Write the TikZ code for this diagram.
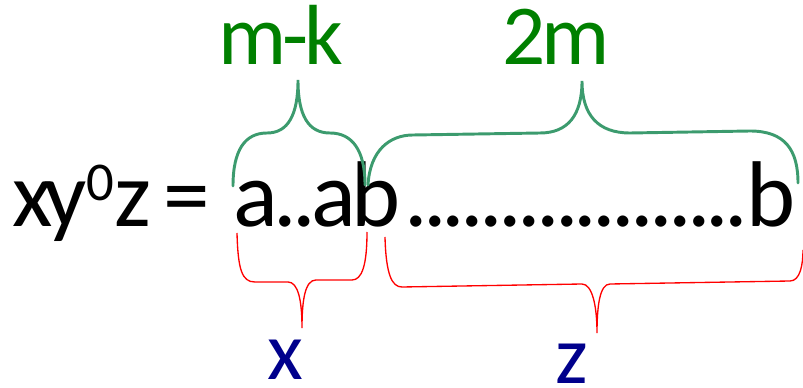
\documentclass[tikz,border=0pt]{standalone}
\usepackage{fontspec}
\setmainfont[LetterSpace=-5]{Carlito}
\definecolor{lblgreen}{RGB}{0,128,0}
\definecolor{bracegreen}{RGB}{60,155,110}
\definecolor{lblblue}{RGB}{0,0,140}
\begin{document}
\begin{tikzpicture}[x=0.75pt, y=-0.75pt,
    every node/.style={inner sep=0pt},
    word/.style={font=\fontsize{70}{80}\selectfont, anchor=base west},
    toplbl/.style={font=\fontsize{64}{72}\selectfont, text=lblgreen, anchor=base},
    botlbl/.style={font=\fontsize{62}{72}\selectfont, text=lblblue, anchor=base, text depth=0pt},
    gbrace/.style={draw=bracegreen, line width=2.2pt, line cap=round},
    rbrace/.style={draw=red, line width=1pt}]
\useasboundingbox (0,0) rectangle (803,388);
\node[word] (lhs) at (12,227) {\addfontfeature{LetterSpace=-9}xy\raisebox{20pt}{\fontsize{41}{48}\selectfont 0}z =};
\node[word] (pre) at (233,227) {a..ab};
\node[word] (dots) at (404,227) {..................};
\node[word, anchor=base east] (last) at (796,227) {b};
\node[toplbl] (lblmk) at (281,65) {m-k};
\node[toplbl] (lbl2m) at (556,65) {2m};
\node[botlbl] (lblx) at (285,379) {x};
\node[botlbl] (lblz) at (572,383) {z};
% braces over the string
\draw[gbrace] (233,186) .. controls (233,150) and (245,133) .. (267,133)
  .. controls (288,133) and (298,115) .. (298,80)
  .. controls (298,115) and (308,133) .. (330,133)
  .. controls (352,133) and (365,150) .. (365,185);
\draw[gbrace] (368,185) .. controls (370,150) and (390,135) .. (413,135)
  -- (540,133) .. controls (568,133) and (582,115) .. (582,81)
  .. controls (582,115) and (598,133) .. (630,133)
  -- (750,131) .. controls (785,131) and (798,150) .. (798,183);
% braces under the string
\draw[rbrace] (237,233) .. controls (238,270) and (242,282) .. (255,282)
  -- (288,282) .. controls (298,282) and (302,300) .. (302,328)
  .. controls (302,300) and (305,280) .. (316,280)
  -- (352,280) .. controls (362,280) and (367,265) .. (367,232);
\draw[rbrace] (385,237) .. controls (386,275) and (392,287) .. (402,287)
  -- (582,284) .. controls (592,284) and (597,305) .. (597,333)
  .. controls (597,305) and (600,284) .. (610,284)
  -- (790,281) .. controls (800,281) and (803,265) .. (803,250);
\end{tikzpicture}
\end{document}
